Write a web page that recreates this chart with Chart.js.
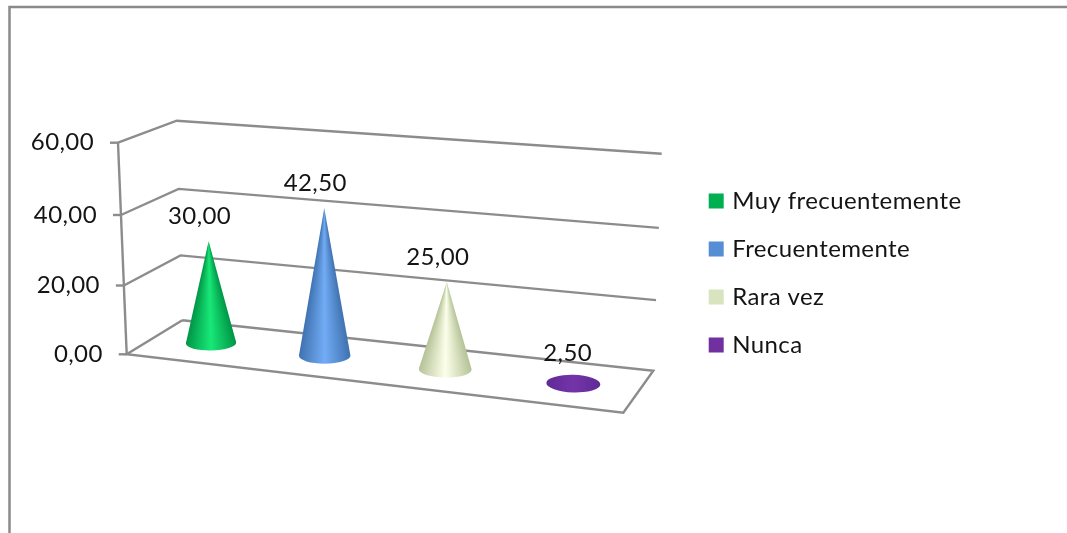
<!DOCTYPE html>
<html>
<head>
<meta charset="utf-8">
<style>
  html, body { margin: 0; padding: 0; background: #ffffff; }
  canvas { display: block; }
</style>
<script src="https://cdn.jsdelivr.net/npm/chart.js@4/dist/chart.umd.js"></script>
</head>
<body>
<canvas id="chart" width="1067" height="533"></canvas>
<script>
// Survey answers, one cone per answer
const categories = [''];
const seriesLabels = ['Muy frecuentemente', 'Frecuentemente', 'Rara vez', 'Nunca'];
const seriesValues = [30.0, 42.5, 25.0, 2.5];
const seriesColors = ['#00B050', '#558ED5', '#D7E4BD', '#7030A0'];
// Cone shading, from the rim to the lit middle
const coneEdges = ['#009545', '#3F72B0', '#B4C296', '#5F2A96'];
const coneLights = ['#18E878', '#72ACF5', '#FCFFEA', '#7434A8'];
const axisMin = 0;
const axisMax = 60;
const axisStep = 20;

const FONT = { family: 'Lato', size: 24 };
const TEXT_COLOR = '#141414';
const LINE_COLOR = '#8c8c8c';
const LETTER_SPACING = '0.4px';

// Corners of the 3D box: floor and ceiling, each as
// front-left, front-right, back-right, back-left
const floorQuad = [[126.7, 354.3], [623.3, 412.7], [653.3, 370.7], [182.3, 320.3]];
const ceilQuad = [[118, 142.7], [635.3, 192.7], [661.7, 153.7], [176.7, 120.7]];
const HEIGHT_PERSPECTIVE = 0.038;
const FLOOR_WIDTH = 496;

// Unit square to quad projective map
function quadMap(q) {
  const [[x0, y0], [x1, y1], [x2, y2], [x3, y3]] = q;
  const dx1 = x1 - x2, dx2 = x3 - x2, sx = x0 - x1 + x2 - x3;
  const dy1 = y1 - y2, dy2 = y3 - y2, sy = y0 - y1 + y2 - y3;
  const den = dx1 * dy2 - dx2 * dy1;
  const g = (sx * dy2 - dx2 * sy) / den;
  const h = (dx1 * sy - sx * dy1) / den;
  const a = x1 - x0 + g * x1, b = x3 - x0 + h * x3;
  const d = y1 - y0 + g * y1, e = y3 - y0 + h * y3;
  return (u, w) => {
    const k = g * u + h * w + 1;
    return { x: (a * u + b * w + x0) / k, y: (d * u + e * w + y0) / k };
  };
}
const floorAt = quadMap(floorQuad);

// Vertical edge of the box above a floor position, blended from the four corners
function riseAt(u, w) {
  const corner = (i, k) => ceilQuad[i][k] - floorQuad[i][k];
  const blend = (k) =>
    (1 - w) * ((1 - u) * corner(0, k) + u * corner(1, k)) +
    w * ((1 - u) * corner(3, k) + u * corner(2, k));
  return { x: blend(0), y: blend(1) };
}

// u: across the chart, w: into the depth, v: up the value range (all 0..1)
function project(u, w, v) {
  const f = floorAt(u, w), r = riseAt(u, w);
  const t = v / (1 + HEIGHT_PERSPECTIVE * (1 - v));
  return { x: f.x + r.x * t, y: f.y + r.y * t };
}

const formatValue = (n) => n.toFixed(2).replace('.', ',');

// Bar controller whose elements are painted as cones standing on the floor
class ConeController extends Chart.BarController {
  draw() {
    const chart = this.chart, ctx = chart.ctx, area = chart.chartArea;
    const i = this.index;
    const el = this.getMeta().data[0];
    if (!el || el.skip) return;
    const u = (el.x - area.left) / area.width + 0.003;
    const du = (el.width / 2) / area.width;
    const v = (area.bottom - el.y) / area.height;
    const depth = 0.5;

    const c = project(u, depth, 0);
    const apex = project(u, depth, v);
    const rx = du * FLOOR_WIDTH * (1 + 0.1 * u);
    const ry = 0.215 * (floorAt(u, 0).y - floorAt(u, 1).y);
    const tilt = (u - 0.4) * 0.06;

    // Apex position in the frame where the base ellipse is a unit circle
    const cos = Math.cos(-tilt), sin = Math.sin(-tilt);
    const ax = apex.x - c.x, ay = apex.y - c.y;
    const lx = (ax * cos - ay * sin) / rx, ly = (ax * sin + ay * cos) / ry;
    const dist = Math.hypot(lx, ly);
    const standing = dist > 1;

    ctx.save();
    let t1, t2;
    if (standing) {
      const phi = Math.atan2(ly, lx), alpha = Math.acos(1 / dist);
      const tangent = (ang) => {
        const ex = Math.cos(ang) * rx, ey = Math.sin(ang) * ry;
        return { x: c.x + ex * cos + ey * sin, y: c.y - ex * sin + ey * cos };
      };
      t1 = tangent(phi + alpha);
      t2 = tangent(phi - alpha);
      // Shading fans out from the tip, between the two silhouette edges
      const a1 = Math.atan2(t1.y - apex.y, t1.x - apex.x);
      const a2 = Math.atan2(t2.y - apex.y, t2.x - apex.x);
      const start = Math.min(a1, a2), span = Math.abs(a1 - a2) / (Math.PI * 2);
      const grad = ctx.createConicGradient(start, apex.x, apex.y);
      grad.addColorStop(0, coneEdges[i]);
      grad.addColorStop(span * 0.5, coneLights[i]);
      grad.addColorStop(span, coneEdges[i]);
      grad.addColorStop(1, coneEdges[i]);
      ctx.fillStyle = grad;
    } else {
      const grad = ctx.createLinearGradient(c.x - rx, 0, c.x + rx, 0);
      grad.addColorStop(0, coneEdges[i]);
      grad.addColorStop(0.5, coneLights[i]);
      grad.addColorStop(1, coneEdges[i]);
      ctx.fillStyle = grad;
    }

    ctx.beginPath();
    ctx.ellipse(c.x, c.y, rx, ry, tilt, 0, Math.PI * 2);
    ctx.fill();

    if (standing) {
      ctx.beginPath();
      ctx.moveTo(apex.x, apex.y);
      ctx.lineTo(t1.x, t1.y);
      ctx.lineTo(c.x, c.y);
      ctx.lineTo(t2.x, t2.y);
      ctx.closePath();
      ctx.fill();
    }

    // Value above the tip
    ctx.fillStyle = TEXT_COLOR;
    ctx.font = FONT.size + 'px ' + FONT.family;
    ctx.textAlign = 'center';
    ctx.textBaseline = 'middle';
    const offX = standing ? -9 : -6, offY = standing ? -25 : -22;
    ctx.fillText(formatValue(seriesValues[i]), apex.x + offX, apex.y + offY);
    ctx.restore();
  }
}
ConeController.id = 'cone';
ConeController.defaults = Chart.BarController.defaults;
ConeController.overrides = Chart.BarController.overrides;
Chart.register(ConeController);

// Draws the page frame and the box walls, and moves the axis labels onto the slanted axis
const boxPlugin = {
  id: 'box',
  beforeLayout(chart) { chart.ctx.letterSpacing = LETTER_SPACING; },
  beforeDraw(chart) {
    const ctx = chart.ctx, scale = chart.scales.y, area = chart.chartArea;
    ctx.letterSpacing = LETTER_SPACING;

    ctx.save();
    ctx.strokeStyle = '#8a8a8a';
    ctx.lineWidth = 2.5;
    ctx.beginPath();
    ctx.moveTo(9.5, chart.height);
    ctx.lineTo(9.5, 7);
    ctx.lineTo(chart.width, 7);
    ctx.stroke();
    ctx.restore();

    scale.getLabelItems(area).forEach((item, i) => {
      const v = (area.bottom - scale.getPixelForTick(i)) / area.height;
      const p = project(0, 0, v);
      item.options.translation = [p.x - 24, p.y];
    });
  },
  beforeDatasetsDraw(chart) {
    const ctx = chart.ctx, scale = chart.scales.y, area = chart.chartArea;
    const poly = (pts) => {
      ctx.beginPath();
      pts.forEach((p, i) => (i ? ctx.lineTo(p.x, p.y) : ctx.moveTo(p.x, p.y)));
    };
    ctx.save();
    ctx.strokeStyle = LINE_COLOR;
    ctx.lineWidth = 2.4;
    ctx.lineJoin = 'miter';

    scale.ticks.forEach((tick, i) => {
      const v = (area.bottom - scale.getPixelForTick(i)) / area.height;
      const a = project(0, 0, v);
      if (v > 0) {
        poly([a, project(0, 1, v), project(1, 1, v)]);
        ctx.stroke();
      }
      poly([{ x: a.x - 8, y: a.y }, a]);
      ctx.stroke();
    });

    poly([project(0, 0, 0), project(0, 0, 1)]);
    ctx.stroke();
    poly([project(0, 1, 0), project(0, 0, 0), project(1, 0, 0), project(1, 1, 0), project(0, 1, 0)]);
    ctx.stroke();
    ctx.restore();
  }
};

new Chart(document.getElementById('chart'), {
  type: 'cone',
  data: {
    labels: categories,
    datasets: seriesLabels.map((label, i) => ({
      label,
      data: [seriesValues[i]],
      backgroundColor: seriesColors[i],
      borderColor: seriesColors[i],
      borderWidth: 7
    }))
  },
  plugins: [boxPlugin],
  options: {
    responsive: false,
    animation: false,
    events: [],
    layout: { padding: { left: 30, right: 95.5, top: 31, bottom: 18 } },
    datasets: { cone: { categoryPercentage: 1, barPercentage: 0.4 } },
    scales: {
      x: { type: 'category', display: false, offset: true },
      y: {
        type: 'linear',
        min: axisMin,
        max: axisMax,
        grid: { display: false },
        border: { display: false },
        ticks: {
          stepSize: axisStep,
          color: TEXT_COLOR,
          font: FONT,
          callback: (value) => formatValue(value)
        }
      }
    },
    plugins: {
      tooltip: { enabled: false },
      legend: {
        position: 'right',
        maxWidth: 340,
        labels: {
          boxWidth: 8,
          boxHeight: 8,
          padding: 24,
          color: TEXT_COLOR,
          font: FONT
        }
      }
    }
  }
});
</script>
</body>
</html>
